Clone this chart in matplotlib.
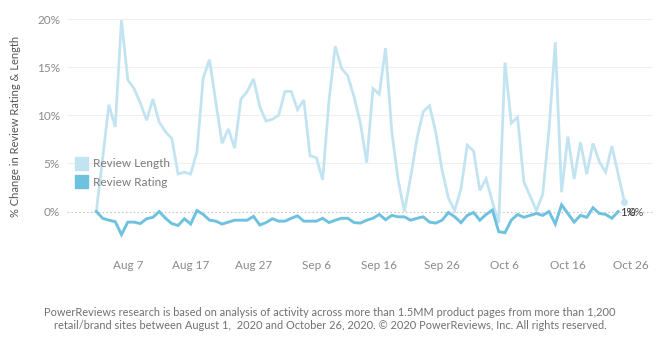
import numpy as np
import pandas as pd
import matplotlib
matplotlib.use("Agg")
from matplotlib import pyplot as plt
from matplotlib.patches import Patch

plt.rcParams['font.family'] = ['Lato', 'DejaVu Sans']

# % change vs. Aug 1, daily
length_dates = pd.date_range("2020-08-02", "2020-10-25", freq="D")
review_length = [
    0, 5.5, 11.1, 8.8, 19.9, 13.7, 12.8, 11.3, 9.5, 11.7,
    9.3, 8.3, 7.6, 3.9, 4.1, 3.9, 6.2, 13.9, 15.8, 11.4,
    7.1, 8.6, 6.6, 11.7, 12.5, 13.8, 10.9, 9.4, 9.6, 10.0,
    12.5, 12.5, 10.6, 11.6, 5.8, 5.6, 3.3, 11.5, 17.2, 14.9,
    14.1, 11.9, 9.2, 5.1, 12.8, 12.2, 17.0, 8.3, 3.3, 0.0,
    3.6, 7.6, 10.4, 11.0, 8.2, 4.3, 1.4, 0.1, 2.4, 6.9,
    6.3, 2.2, 3.4, 1.0, -1.2, 15.5, 9.2, 9.8, 3.1, 1.6,
    0.1, 1.8, 8.5, 17.6, 2.0, 7.8, 3.4, 7.2, 3.9, 7.1,
    5.2, 4.1, 6.8, 3.9, 1.0,
]
rating_dates = pd.date_range("2020-08-02", "2020-10-24", freq="D")
review_rating = [
    0, -0.7, -0.9, -1.05, -2.4, -1.1, -1.1, -1.25, -0.75, -0.6,
    0, -0.7, -1.25, -1.45, -0.75, -1.3, 0.1, -0.3, -0.9, -1.0,
    -1.3, -1.1, -0.9, -0.9, -0.9, -0.5, -1.4, -1.15, -0.75, -1.0,
    -1.0, -0.7, -0.45, -1.0, -1.0, -1.0, -0.7, -1.15, -0.9, -0.7,
    -0.7, -1.15, -1.2, -0.9, -0.7, -0.3, -0.85, -0.4, -0.55, -0.55,
    -0.9, -0.7, -0.55, -1.1, -1.2, -0.9, -0.1, -0.55, -1.15, -0.4,
    -0.1, -0.9, -0.3, 0.15, -2.1, -2.2, -0.9, -0.3, -0.6, -0.4,
    -0.2, -0.4, 0, -1.3, 0.7, -0.2, -1.1, -0.4, -0.6, 0.4,
    -0.2, -0.3, -0.7, 0,
]
tick_dates = pd.date_range("2020-08-07", "2020-10-26", freq="10D")
tick_labels = [d.strftime("%b ") + str(d.day) for d in tick_dates]

c_length = "#c2e4f1"
c_rating = "#6fc2df"

fig = plt.figure(figsize=(6.6, 3.44), dpi=100)
ax = fig.add_axes([0.1015, 0.2733, 0.8875, 0.679])

for v in [5, 10, 15, 20]:
    ax.axhline(v, color="#efefef", lw=0.8, zorder=0)
ax.axhline(0, color="#c8c8c8", lw=0.8, ls=(0, (1.5, 2)), zorder=0)
ax.axhline(-4, color="#e4e4e4", lw=0.8, ls=(0, (1.5, 2)), zorder=0)

ax.plot(length_dates, review_length, color=c_length, lw=2.0, solid_joinstyle="miter")
ax.plot(length_dates[-1:], review_length[-1:], "o", color=c_length, ms=4)
ax.plot(rating_dates, review_rating, color=c_rating, lw=2.1, solid_joinstyle="miter")

# end labels overlap in the original too
ax.text(length_dates[-1] - pd.Timedelta(days=0.7), -0.1, "1%", color="#333333",
        fontsize=8, va="center", ha="left")
ax.text(rating_dates[-1] + pd.Timedelta(days=1.6), -0.1, "0%", color="#333333",
        fontsize=8, va="center", ha="left", alpha=0.85)

ax.set_xlim(pd.Timestamp("2020-07-28 08:00"), pd.Timestamp("2020-10-29 12:00"))
ax.set_ylim(-4, 20.3)
ax.set_yticks([0, 5, 10, 15, 20])
ax.set_yticklabels(["0%", "5%", "10%", "15%", "20%"])
ax.set_xticks(tick_dates)
ax.set_xticklabels(tick_labels)
ax.tick_params(axis="both", length=0, colors="#8a8a8a", labelsize=8.5)
ax.tick_params(axis="x", pad=7)
ax.tick_params(axis="y", pad=5)
for s in ax.spines.values():
    s.set_visible(False)

ax.set_ylabel("% Change in Review Rating & Length", color="#555555", fontsize=8)
ax.yaxis.set_label_coords(-0.078, 0.527)

handles = [Patch(color=c_length, label="Review Length"),
           Patch(color=c_rating, label="Review Rating")]
leg = ax.legend(handles=handles, loc="upper left", bbox_to_anchor=(0.0, 0.435),
                frameon=False, fontsize=8.5, handlelength=1.1, handleheight=1.3,
                handletextpad=0.4, labelspacing=0.5, borderaxespad=0.3)
for t in leg.get_texts():
    t.set_color("#7a7a7a")

fig.text(0.5, 0.073, "PowerReviews research is based on analysis of activity across more than 1.5MM product pages from more than 1,200\n"
         "retail/brand sites between August 1,  2020 and October 26, 2020. \u00a9 2020 PowerReviews, Inc. All rights reserved.",
         ha="center", va="center", fontsize=7.9, color="#707070", linespacing=1.3)

fig.savefig("out.png", dpi=100)
